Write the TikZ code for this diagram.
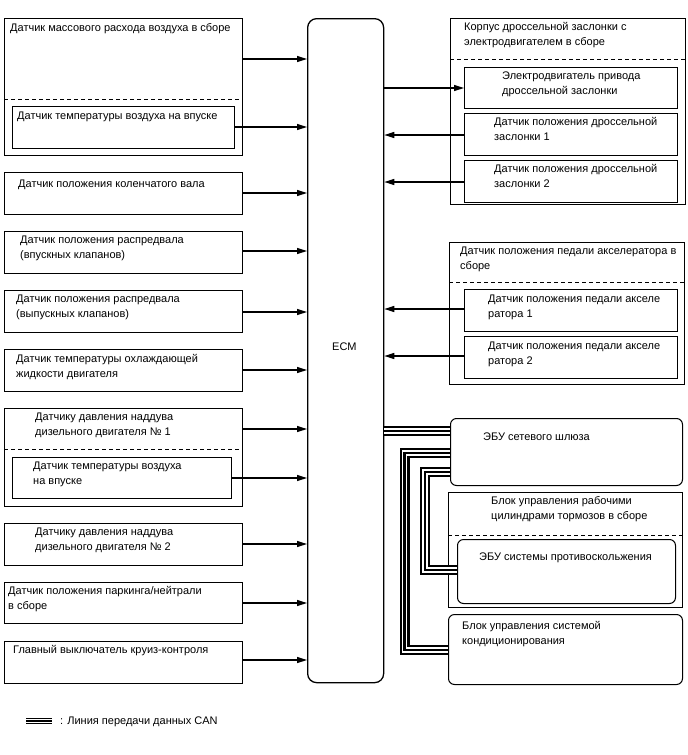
\documentclass[tikz,border=0pt]{standalone}
\usepackage{fontspec}
\setmainfont{Liberation Sans}
\usetikzlibrary{arrows.meta}
\begin{document}
\begin{tikzpicture}[x=1pt,y=-1pt,
  font=\fontsize{11}{15}\selectfont,
  box/.style={draw, line width=1pt, inner sep=0pt, anchor=north west},
  rbox/.style={box, rounded corners=6pt},
  txt/.style={anchor=base west, inner sep=0pt, align=left},
  arr/.style={line width=1.3pt, -{Triangle[length=10pt,width=6pt]}},
  dashline/.style={line width=1pt, dash pattern=on 4pt off 3pt},
  canA/.style={line width=10pt, line join=miter},
  canB/.style={line width=5.6pt, white, line join=miter},
  canC/.style={line width=2.2pt, line join=miter},
]
\useasboundingbox (0,0) rectangle (688,755);

% ECM
\node[box, rounded corners=9pt, line width=1.3pt, minimum width=76pt, minimum height=664pt] (ecm) at (307,18) {};
\node[txt] (ecmt) at (332,350) {ECM};

% ---------- left side ----------
\node[box, minimum width=238pt, minimum height=137pt] (maf) at (4,18) {};
\node[txt] (maft) at (10,31) {Датчик массового расхода воздуха в сборе};
\draw[dashline] (maf.west |- 0,99) -- (maf.east |- 0,99);
\node[box, minimum width=222pt, minimum height=42pt] (iat) at (12,106) {};
\node[txt] (iatt) at (17,119.5) {Датчик температуры воздуха на впуске};

\node[box, minimum width=238pt, minimum height=42pt] (ckp) at (4,172) {};
\node[txt] (ckpt) at (18,187) {Датчик положения коленчатого вала};

\node[box, minimum width=238pt, minimum height=42pt] (cmpi) at (4,231) {};
\node[txt] (cmpit) at (20,258.5) {Датчик положения распредвала\\(впускных клапанов)};

\node[box, minimum width=238pt, minimum height=42pt] (cmpe) at (4,290) {};
\node[txt] (cmpet) at (16,317.5) {Датчик положения распредвала\\(выпускных клапанов)};

\node[box, minimum width=238pt, minimum height=42pt] (ect) at (4,349) {};
\node[txt] (ectt) at (16,377.5) {Датчик температуры охлаждающей\\жидкости двигателя};

\node[box, minimum width=238pt, minimum height=98pt] (bp1) at (4,408) {};
\node[txt] (bp1t) at (35,435.5) {Датчику давления наддува\\дизельного двигателя №~1};
\draw[dashline] (bp1.west |- 0,449) -- (bp1.east |- 0,449);
\node[box, minimum width=219pt, minimum height=41pt] (iat2) at (12,457) {};
\node[txt] (iat2t) at (33,484.5) {Датчик температуры воздуха\\на впуске};

\node[box, minimum width=238pt, minimum height=42pt] (bp2) at (4,523) {};
\node[txt] (bp2t) at (35,550.5) {Датчику давления наддува\\дизельного двигателя №~2};

\node[box, minimum width=238pt, minimum height=41pt] (pnp) at (4,582) {};
\node[txt] (pnpt) at (8,609.5) {Датчик положения паркинга/нейтрали\\в сборе};

\node[box, minimum width=238pt, minimum height=42pt] (cc) at (4,641) {};
\node[txt] (cct) at (13,653.5) {Главный выключатель круиз-контроля};

% left arrows
\draw[arr] (maf.east |- 0,59) -- (ecm.west |- 0,59);
\draw[arr] (iat.east |- 0,127) -- (ecm.west |- 0,127);
\draw[arr] (ckp.east |- 0,193) -- (ecm.west |- 0,193);
\draw[arr] (cmpi.east |- 0,251) -- (ecm.west |- 0,251);
\draw[arr] (cmpe.east |- 0,312) -- (ecm.west |- 0,312);
\draw[arr] (ect.east |- 0,370) -- (ecm.west |- 0,370);
\draw[arr] (bp1.east |- 0,429) -- (ecm.west |- 0,429);
\draw[arr] (iat2.east |- 0,478) -- (ecm.west |- 0,478);
\draw[arr] (bp2.east |- 0,544) -- (ecm.west |- 0,544);
\draw[arr] (pnp.east |- 0,603) -- (ecm.west |- 0,603);
\draw[arr] (cc.east |- 0,660) -- (ecm.west |- 0,660);

% ---------- right side ----------
\node[box, minimum width=235pt, minimum height=186pt] (thr) at (450,18) {};
\node[txt] (thrt) at (464,45.5) {Корпус дроссельной заслонки с\\электродвигателем в сборе};
\draw[dashline] (thr.west |- 0,59) -- (thr.east |- 0,59);
\node[box, minimum width=213pt, minimum height=41pt] (thm) at (464,67) {};
\node[txt] (thmt) at (502,94.5) {Электродвигатель привода\\дроссельной заслонки};
\node[box, minimum width=213pt, minimum height=42pt] (tp1) at (464,113) {};
\node[txt] (tp1t) at (494,140.5) {Датчик положения дроссельной\\заслонки 1};
\node[box, minimum width=213pt, minimum height=42pt] (tp2) at (464,160) {};
\node[txt] (tp2t) at (494,187.5) {Датчик положения дроссельной\\заслонки 2};

\draw[arr] (ecm.east |- 0,88) -- (thm.west |- 0,88);
\draw[arr] (tp1.west |- 0,135) -- (ecm.east |- 0,135);
\draw[arr] (tp2.west |- 0,182) -- (ecm.east |- 0,182);

\node[box, minimum width=235pt, minimum height=142pt] (app) at (449,242) {};
\node[txt] (appt) at (460,269.5) {Датчик положения педали акселератора в\\сборе};
\draw[dashline] (app.west |- 0,282) -- (app.east |- 0,282);
\node[box, minimum width=213pt, minimum height=42pt] (ap1) at (464,289) {};
\node[txt] (ap1t) at (488,317.5) {Датчик положения педали акселе\\ратора 1};
\node[box, minimum width=213pt, minimum height=42pt] (ap2) at (464,336) {};
\node[txt] (ap2t) at (488,364.5) {Датчик положения педали акселе\\ратора 2};

\draw[arr] (ap1.west |- 0,309) -- (ecm.east |- 0,309);
\draw[arr] (ap2.west |- 0,356) -- (ecm.east |- 0,356);

\node[rbox, minimum width=232pt, minimum height=67pt] (gw) at (450,418) {};
\node[txt] (gwt) at (483,440.5) {ЭБУ сетевого шлюза};

\node[box, minimum width=234pt, minimum height=115pt] (brk) at (448,492) {};
\node[txt] (brkt) at (491,519.5) {Блок управления рабочими\\ цилиндрами тормозов в сборе};
\draw[dashline] (brk.west |- 0,535) -- (brk.east |- 0,535);
\node[rbox, minimum width=218pt, minimum height=64pt] (abs) at (457,539) {};
\node[txt] (abst) at (479,560.5) {ЭБУ системы противоскольжения};

\node[rbox, minimum width=234pt, minimum height=70pt] (ac) at (448,614) {};
\node[txt] (act) at (462,644.5) {Блок управления системой\\кондиционирования};

% ---------- CAN bus ----------
\foreach \s in {canA,canB,canC}{
  \draw[\s] (ecm.east |- 0,431) -- (gw.west |- 0,431);
  \draw[\s] (gw.west |- 0,453) -- (404.5,453) -- (404.5,650) -- (ac.west |- 0,650);
  \draw[\s] (gw.west |- 0,472) -- (425,472) -- (425,570) -- (abs.west |- 0,570);
}

% legend
\coordinate (lgA) at (26,721);
\coordinate (lgB) at (52,721);
\draw[line width=6pt] (lgA) -- (lgB);
\draw[line width=3.4pt, white] (lgA) -- (lgB);
\draw[line width=1.3pt] (lgA) -- (lgB);
\node[txt] (lgt) at (60,724.5) {: Линия передачи данных CAN};
\end{tikzpicture}
\end{document}
